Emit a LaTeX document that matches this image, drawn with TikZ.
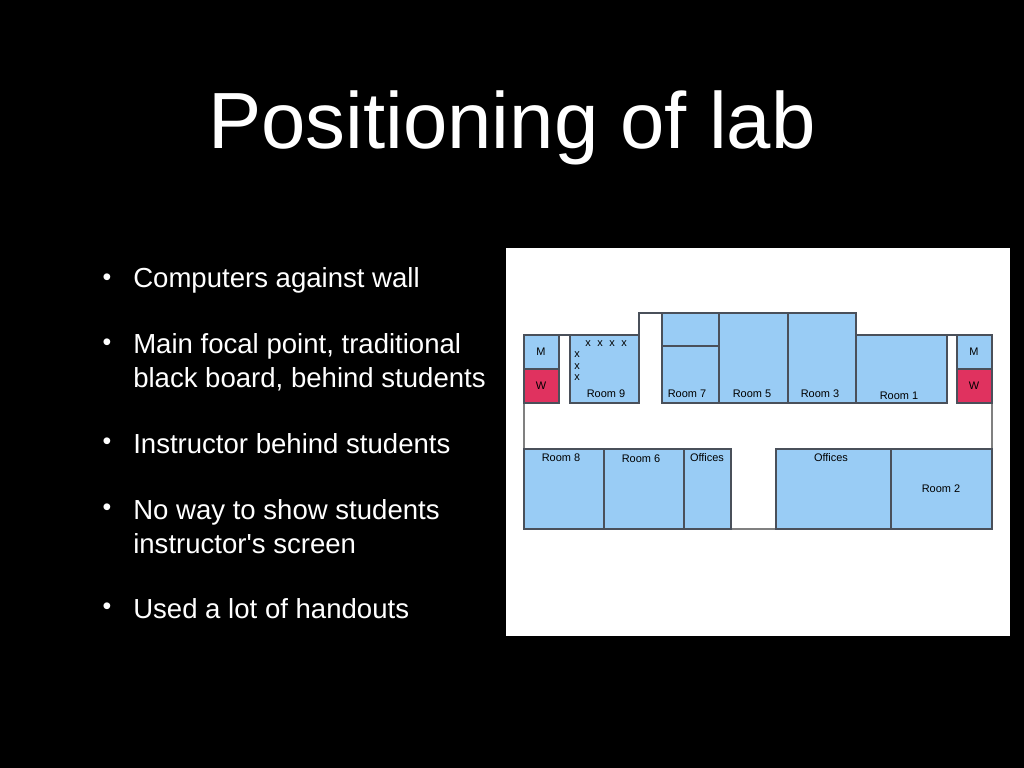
\documentclass[tikz,border=0pt]{standalone}
\usepackage{fontspec}
\setmainfont{Liberation Sans}
\definecolor{roomColor}{HTML}{99CCF5}
\definecolor{wcColor}{HTML}{E0325F}
\definecolor{wallColor}{HTML}{4A505A}
\tikzset{
  room/.style={fill=roomColor, draw=wallColor, line width=0.9pt},
  wc/.style={fill=wcColor, draw=wallColor, line width=0.9pt},
  lbl/.style={font=\fontsize{7.8}{9}\selectfont, inner sep=0pt},
  bullet/.style={white, anchor=west, font=\fontsize{19.6}{24}\selectfont, align=left, inner sep=0pt}
}
\begin{document}
\begin{tikzpicture}[x=0.025cm, y=-0.025cm]
\fill[black] (0,0) rectangle (1024,768);
\useasboundingbox (0,0) rectangle (1024,768);

\node[white, font=\fontsize{56.7}{60}\selectfont, inner sep=0pt] (title) at (512,128) {Positioning of lab};

\foreach \y/\t in {280/{Computers against wall},
                   362/{Main focal point, traditional\\black board, behind students},
                   444/{Instructor behind students},
                   527/{No way to show students\\instructor\textquotesingle s screen},
                   609/{Used a lot of handouts}}
  \node[bullet] at (133,\y) {\t};
\foreach \y in {280,345,444,510,609}
  \node[white, font=\fontsize{17.7}{24}\selectfont, inner sep=0pt] at (107,\y) {•};

% plan
\fill[white] (506,248) rectangle (1010,636);
\draw[gray, line width=0.9pt] (524,403) -- (524,449) (992,403) -- (992,449);
\draw[gray, line width=0.9pt] (731,529) -- (776,529);
\draw[wallColor, line width=0.9pt] (559,335) -- (570,335) (639,335) -- (639,313) -- (662,313);
\draw[wallColor, line width=0.9pt] (947,335) -- (957,335);

\draw[room] (524,335) rectangle (559,369);
\draw[wc] (524,369) rectangle (559,403);
\draw[room] (957,335) rectangle (992,369);
\draw[wc] (957,369) rectangle (992,403);
\draw[room] (570,335) rectangle (639,403);
\draw[room] (662,313) rectangle (719,346);
\draw[room] (662,346) rectangle (719,403);
\draw[room] (719,313) rectangle (788,403);
\draw[room] (788,313) rectangle (856,403);
\draw[room] (856,335) rectangle (947,403);
\draw[room] (524,449) rectangle (604,529);
\draw[room] (604,449) rectangle (684,529);
\draw[room] (684,449) rectangle (731,529);
\draw[room] (776,449) rectangle (891,529);
\draw[room] (891,449) rectangle (992,529);

\node[lbl] at (541,352) {M};
\node[lbl] at (541,386) {W};
\node[lbl] at (974,352) {M};
\node[lbl] at (974,386) {W};
\foreach \x in {588,600,612,624} \node[lbl] at (\x,344) {x};
\foreach \y in {355,367,378} \node[lbl] at (577,\y) {x};
\node[lbl] at (606,394) {Room 9};
\node[lbl] at (687,394) {Room 7};
\node[lbl] at (752,394) {Room 5};
\node[lbl] at (820,394) {Room 3};
\node[lbl] at (899,396) {Room 1};
\node[lbl] at (561,458) {Room 8};
\node[lbl] at (641,459) {Room 6};
\node[lbl] at (707,458) {Offices};
\node[lbl] at (831,458) {Offices};
\node[lbl] at (941,489) {Room 2};
\end{tikzpicture}
\end{document}
